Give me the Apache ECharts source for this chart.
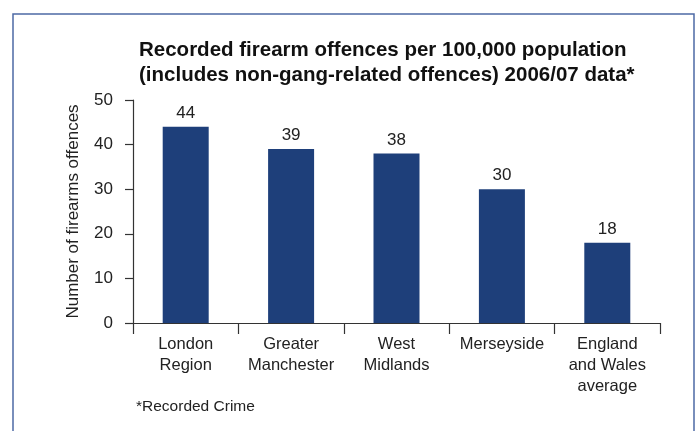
<!DOCTYPE html>
<html>
<head>
<meta charset="utf-8">
<script src="https://cdn.jsdelivr.net/npm/echarts@6/dist/echarts.min.js"></script>
<style>
  html, body { margin: 0; padding: 0; background: #fff; }
  #chart { width: 696px; height: 431px; }
</style>
</head>
<body>
<div id="chart"></div>
<script>
const categories = ['London\nRegion', 'Greater\nManchester', 'West\nMidlands', 'Merseyside', 'England\nand Wales\naverage']
const offences = [44, 39, 38, 30, 18]

const chart = echarts.init(document.getElementById('chart'))
const font = 'Liberation Sans, Arial, sans-serif'

chart.setOption({
  animation: false,
  textStyle: { fontFamily: font },
  title: {
    text: 'Recorded firearm offences per 100,000 population\n(includes non-gang-related offences) 2006/07 data*',
    left: 134,
    top: 33,
    textStyle: { fontSize: 20.5, fontWeight: 'bold', color: '#111', lineHeight: 25, fontFamily: font }
  },
  graphic: [
    {
      type: 'rect',
      shape: { x: 13, y: 14, width: 681, height: 440 },
      style: { fill: 'none', stroke: '#4d6aa5', lineWidth: 1.5 }
    },
    {
      type: 'text',
      left: 136,
      top: 399,
      style: { text: '*Recorded Crime', fontSize: 15.5, fill: '#222', fontFamily: font }
    }
  ],
  grid: { left: 133, right: 36, top: 100, bottom: 108 },
  xAxis: {
    type: 'category',
    data: categories,
    axisLine: { lineStyle: { color: '#333', width: 1.2 } },
    axisTick: { show: true, length: 11, lineStyle: { color: '#333', width: 1.2 } },
    axisLabel: { color: '#222', fontSize: 16.5, lineHeight: 21, margin: 11, interval: 0 }
  },
  yAxis: {
    type: 'value',
    min: 0,
    max: 50,
    interval: 10,
    name: 'Number of firearms offences',
    nameLocation: 'middle',
    nameGap: 51,
    nameTextStyle: { color: '#222', fontSize: 17 },
    splitLine: { show: false },
    axisLine: { show: true, lineStyle: { color: '#333', width: 1.2 } },
    axisTick: { show: true, length: 8, lineStyle: { color: '#333', width: 1.2 } },
    axisLabel: { color: '#222', fontSize: 17, margin: 20 }
  },
  series: [
    {
      type: 'bar',
      data: offences,
      barWidth: 46,
      itemStyle: { color: '#1e3f7a' },
      label: { show: true, position: 'top', distance: 5, color: '#222', fontSize: 17 }
    }
  ]
})
</script>
</body>
</html>
